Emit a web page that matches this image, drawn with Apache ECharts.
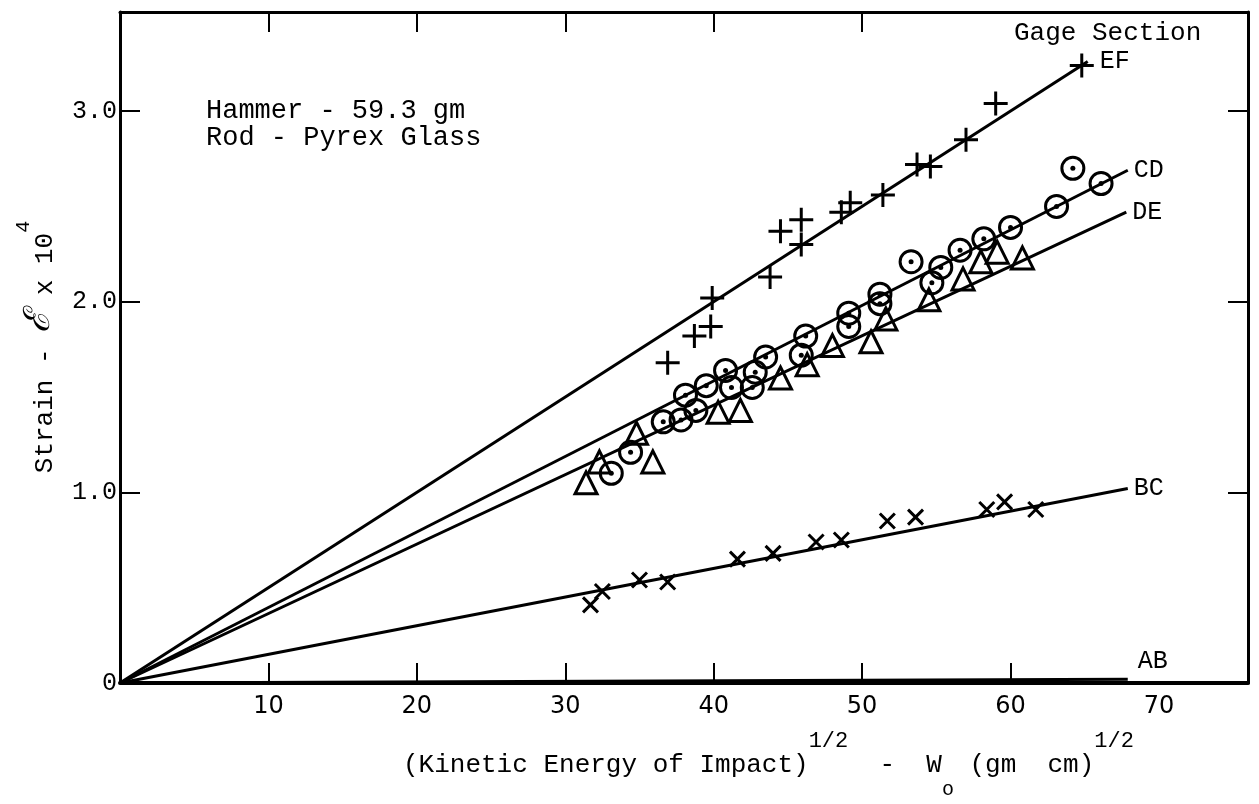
<!DOCTYPE html>
<html><head><meta charset="utf-8">
<script src="https://cdn.jsdelivr.net/npm/echarts@6/dist/echarts.min.js"></script>
<style>html,body{margin:0;padding:0;background:#fff}#c{width:1259px;height:804px}</style>
</head><body><div id="c"></div>
<script>
// ---- data ----
const xTickValues = [10, 20, 30, 40, 50, 60];
const xTopTickValues = [10, 20, 30, 40, 50];
const xLabelValues = [10, 20, 30, 40, 50, 60, 70];
const yTickValues = [1, 2, 3];
const yLabelValues = [0, 1, 2, 3];

// Gage section EF (+)
const efPoints = [[36.9,1.68],[38.7,1.82],[39.8,1.87],[39.9,2.02],[43.8,2.13],[44.5,2.37],[45.9,2.43],[45.9,2.30],[48.6,2.47],[49.2,2.52],[51.4,2.56],[53.7,2.72],[54.6,2.71],[57.0,2.85],[59.0,3.04],[64.8,3.24]];
// Gage section CD (circle with dot)
const cdPoints = [[33.1,1.10],[34.4,1.21],[36.6,1.37],[37.8,1.38],[38.1,1.51],[38.8,1.43],[39.5,1.56],[40.8,1.64],[41.2,1.55],[42.6,1.55],[42.8,1.63],[43.5,1.71],[45.9,1.72],[46.2,1.82],[49.1,1.94],[49.1,1.87],[51.2,2.04],[51.2,1.99],[53.3,2.21],[54.7,2.10],[55.3,2.18],[56.6,2.27],[58.2,2.33],[60.0,2.39],[63.1,2.50],[64.2,2.70],[66.1,2.62]];
// Gage section DE (triangle)
const dePoints = [[31.4,1.05],[32.3,1.16],[34.8,1.31],[35.9,1.16],[40.3,1.42],[41.8,1.43],[44.5,1.60],[46.3,1.67],[48.0,1.77],[50.6,1.79],[51.6,1.91],[54.5,2.01],[56.8,2.12],[58.0,2.21],[59.1,2.26],[60.8,2.23]];
// Gage section BC (x)
const bcPoints = [[31.7,0.41],[32.5,0.48],[35.0,0.54],[36.9,0.53],[41.6,0.65],[44.0,0.68],[46.9,0.74],[48.6,0.75],[51.7,0.85],[53.6,0.87],[58.4,0.91],[59.6,0.95],[61.7,0.91]];

// fitted lines through origin: names and end points
const fitNames = ['EF', 'CD', 'DE', 'BC', 'AB'];
const fitEnds = [[65.2,3.26],[67.9,2.69],[67.8,2.47],[67.9,1.02],[67.9,0.02]];

// ---- chart ----
const mono = 'Liberation Mono';
const chart = echarts.init(document.getElementById('c'), null, {renderer: 'canvas'});

const lineSeries = fitNames.map((n, i) => ({
  type: 'line', name: n, xAxisIndex: 0, yAxisIndex: 0,
  data: [[0, 0], fitEnds[i]], showSymbol: false, symbol: 'none',
  lineStyle: {color: '#000', width: 3}, z: 2, silent: true,
  endLabel: {show: true, formatter: '{a}', fontFamily: mono, fontSize: 25, color: '#000',
             distance: n === 'EF' ? 12 : 6, offset: n === 'AB' ? [4, -18] : [0, 0]}
}));

const hollow = {color: 'rgba(0,0,0,0)', borderColor: '#000', borderWidth: 3, opacity: 1};

chart.setOption({
  animation: false,
  backgroundColor: '#fff',
  grid: {left: 120, right: 11, top: 12, bottom: 121, containLabel: false},
  xAxis: [
    {type: 'value', position: 'bottom', min: 0, max: 76, interval: 10,
     axisLine: {show: true, onZero: false, lineStyle: {color: '#000', width: 4}},
     axisTick: {show: true, inside: true, length: 20, lineStyle: {color: '#000', width: 2}, customValues: xTickValues},
     axisLabel: {show: true, customValues: xLabelValues, margin: 12, fontFamily: 'DejaVu Sans', fontSize: 24, color: '#000'},
     splitLine: {show: false}},
    {type: 'value', position: 'top', min: 0, max: 76, interval: 10,
     axisLine: {show: true, onZero: false, lineStyle: {color: '#000', width: 3}},
     axisTick: {show: true, inside: true, length: 20, lineStyle: {color: '#000', width: 2}, customValues: xTopTickValues},
     axisLabel: {show: false}, splitLine: {show: false}}
  ],
  yAxis: [
    {type: 'value', position: 'left', min: 0, max: 3.52, interval: 1,
     axisLine: {show: true, onZero: false, lineStyle: {color: '#000', width: 3}},
     axisTick: {show: true, inside: true, length: 20, lineStyle: {color: '#000', width: 2}, customValues: yTickValues},
     axisLabel: {show: true, customValues: yLabelValues, margin: 3, fontFamily: mono, fontSize: 25, color: '#000',
                 formatter: v => v === 0 ? '0' : v.toFixed(1)},
     splitLine: {show: false}},
    {type: 'value', position: 'right', min: 0, max: 3.52, interval: 1,
     axisLine: {show: true, onZero: false, lineStyle: {color: '#000', width: 3}},
     axisTick: {show: true, inside: true, length: 20, lineStyle: {color: '#000', width: 2}, customValues: yTickValues},
     axisLabel: {show: false}, splitLine: {show: false}}
  ],
  series: lineSeries.concat([
    {type: 'scatter', name: 'EF pts', data: efPoints, symbol: 'path://M10,0L10,20M0,10L20,10',
     symbolSize: 24, itemStyle: hollow, z: 3, silent: true},
    {type: 'scatter', name: 'CD pts', data: cdPoints, symbol: 'circle', symbolSize: 22,
     itemStyle: hollow, z: 3, silent: true},
    {type: 'scatter', name: 'CD dots', data: cdPoints, symbol: 'circle', symbolSize: 5,
     itemStyle: {color: '#000', opacity: 1}, z: 4, silent: true},
    {type: 'scatter', name: 'DE pts', data: dePoints, symbol: 'triangle', symbolSize: 22,
     itemStyle: hollow, z: 3, silent: true},
    {type: 'scatter', name: 'BC pts', data: bcPoints, symbol: 'path://M0,0L20,20M0,20L20,0',
     symbolSize: 15, itemStyle: hollow, z: 3, silent: true}
  ]),
  graphic: [
    {type: 'text', left: 206, top: 97, style: {text: 'Hammer - 59.3 gm', fontFamily: mono, fontSize: 27, fill: '#000'}},
    {type: 'text', left: 206, top: 124, style: {text: 'Rod - Pyrex Glass', fontFamily: mono, fontSize: 27, fill: '#000'}},
    {type: 'text', left: 1014, top: 20, style: {text: 'Gage Section', fontFamily: mono, fontSize: 26, fill: '#000'}},
    {type: 'text', x: 36, y: 347, rotation: Math.PI / 2,
     style: {text: '{t|Strain - }{e|ℰ}{t| x 10}{s|4}', align: 'center', verticalAlign: 'middle',
       rich: {
         t: {fontFamily: mono, fontSize: 26, fill: '#000', lineHeight: 44, verticalAlign: 'bottom'},
         e: {fontFamily: 'DejaVu Serif', fontStyle: 'italic', fontSize: 36, fill: '#000', lineHeight: 44, verticalAlign: 'bottom'},
         s: {fontFamily: mono, fontSize: 20, fill: '#000', lineHeight: 20, verticalAlign: 'top'}
       }}},
    {type: 'text', left: 403, top: 730,
     style: {text: '{t|(Kinetic Energy of Impact)}{s|1/2}{t|  -  W}{b|o}{t| (gm  cm)}{s|1/2}',
       rich: {
         t: {fontFamily: mono, fontSize: 26, fill: '#000', lineHeight: 70, verticalAlign: 'middle'},
         s: {fontFamily: mono, fontSize: 22, fill: '#000', lineHeight: 22, verticalAlign: 'top'},
         b: {fontFamily: mono, fontSize: 20, fill: '#000', lineHeight: 16, verticalAlign: 'bottom'}
       }}}
  ]
});
</script></body></html>
